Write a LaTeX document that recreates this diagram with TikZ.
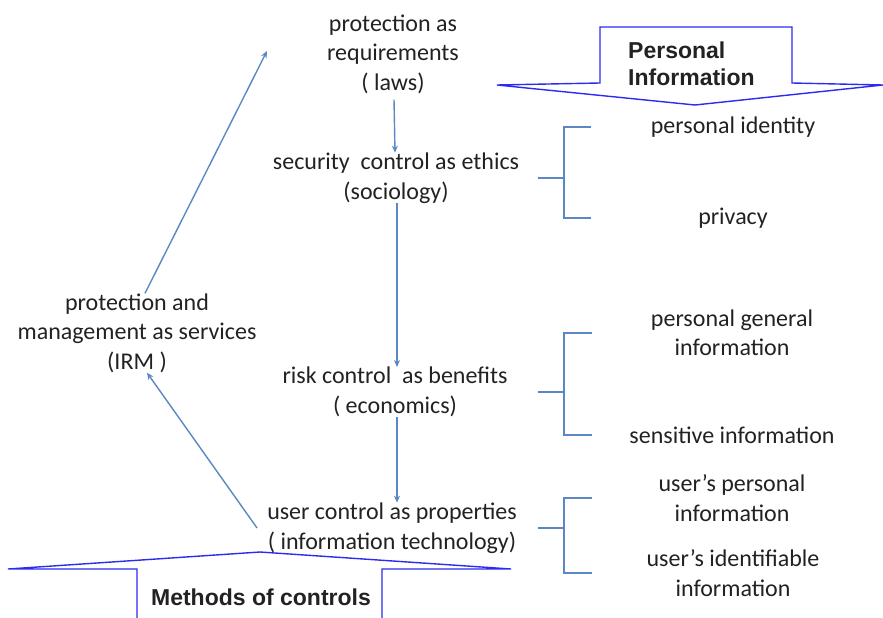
\documentclass[tikz,border=0pt]{standalone}
\usepackage{fontspec}
\setmainfont{Carlito}
\newfontfamily\headfont{Liberation Sans}
\usepackage{xcolor}
\usepackage{tikz}
\usetikzlibrary{arrows.meta,positioning,calc}
\definecolor{ink}{HTML}{222222}
\definecolor{flow}{HTML}{5B87C2}
\definecolor{frame}{HTML}{2B2BF2}

\begin{document}
\begin{tikzpicture}[x=1pt,y=-1pt,
  every node/.style={text=ink},
  stage/.style={align=center, inner sep=0pt, font=\fontsize{24}{29.5}\selectfont},
  head/.style={align=left, inner sep=0pt, font=\headfont\bfseries\fontsize{23}{27}\selectfont},
  flowarrow/.style={draw=flow, line width=1.4pt, -{Stealth[length=7pt,width=6pt]}},
  brace/.style={draw=flow, line width=1.6pt},
  banner/.style={draw=frame, line width=1.4pt, fill=white}]
\useasboundingbox (0,0) rectangle (883,618);

% banners: personal information (top right) and methods of controls (bottom)
\draw[banner] (600,27) -- (792,27) -- (792,83) -- (883,85) -- (695,105)
  -- (497,85) -- (600,83) -- cycle;
\draw[banner] (137,618) -- (137,569) -- (8,569) -- (260,552) -- (511,569)
  -- (382,569) -- (382,618);
\node[head, anchor=west] (pinfo) at (628,64) {Personal\\Information};
\node[head] (methods) at (261,597) {Methods of controls};

% the stages of control
\node[stage] (req)  at (393,54)  {protection as\\requirements\\( laws)};
\node[stage] (sec)  at (396,178) {security\ \ control as ethics\\(sociology)};
\node[stage] (risk) at (395,392) {risk control\ \ as benefits\\( economics)};
\node[stage] (user) at (392,528) {user control as properties\\( information technology)};
\node[stage] (irm)  at (137,333) {protection and\\management as services\\(IRM )};

\draw[flowarrow] ([xshift=1pt,yshift=-6pt]req.south) -- ([xshift=-1pt]sec.north);
\draw[flowarrow] ([xshift=1pt]sec.south) -- ([xshift=2pt]risk.north);
\draw[flowarrow] ([xshift=2pt]risk.south) -- ([xshift=5pt]user.north);
\draw[flowarrow] ([xshift=8pt]irm.north) -- ([xshift=-60pt,yshift=3pt]req.west);
\draw[flowarrow] ([xshift=-10pt]user.west) -- ([xshift=10pt]irm.south);

% personal information items
\node[stage] (pid)  at (733,127) {personal identity};
\node[stage] (prv)  at (733,218) {privacy};
\node[stage] (pgen) at (732,333) {personal general\\information};
\node[stage] (sens) at (732,435) {sensitive information};
\node[stage] (upers) at (732,498) {user's personal\\information};
\node[stage] (uid)  at (733,573) {user's identifiable\\information};

% brackets
\coordinate (s1) at (564,0);
\draw[brace] (sec.east -| 538,0) -- (sec.east -| s1);
\draw[brace] (s1 |- pid) ++(27,0) -- (s1 |- pid) -- (s1 |- prv) -- ++(27,0);
\draw[brace] (risk.east -| 538,0) -- (risk.east -| s1);
\draw[brace] (s1 |- pgen) ++(28,0) -- (s1 |- pgen) -- (s1 |- sens) -- ++(28,0);
\draw[brace] (user.east -| 538,0) -- (user.east -| s1);
\draw[brace] (s1 |- upers) ++(28,0) -- (s1 |- upers) -- (s1 |- uid) -- ++(28,0);
\end{tikzpicture}
\end{document}
